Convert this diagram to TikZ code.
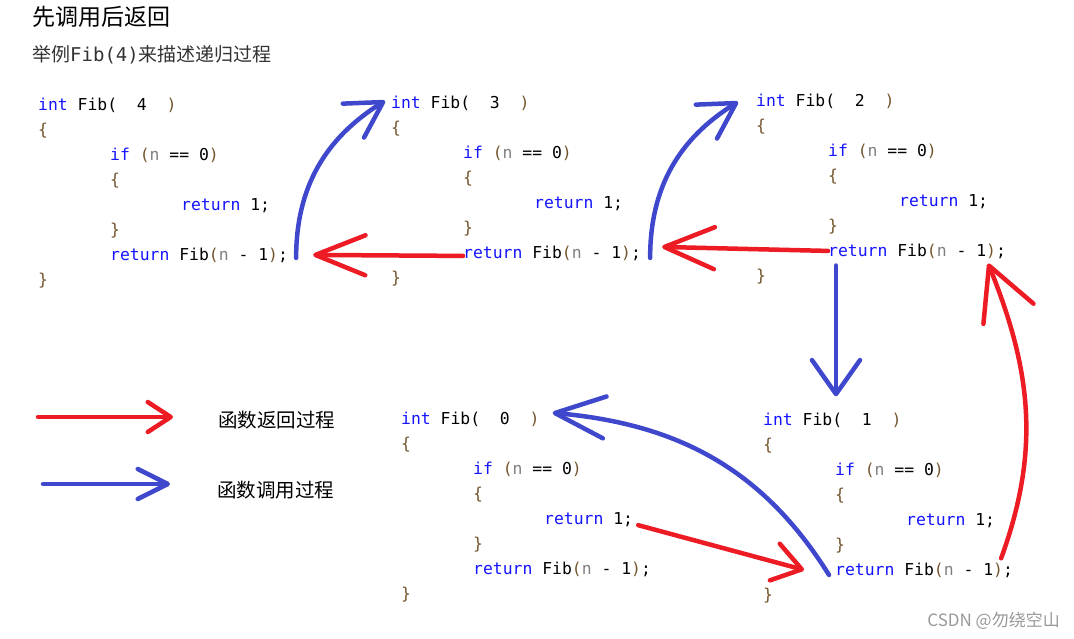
\documentclass[tikz,border=0pt]{standalone}
\usepackage{fontspec}
\setmonofont{DejaVu Sans Mono}
\newfontfamily\cjk{Noto Sans CJK SC}
\usetikzlibrary{arrows.meta}
\definecolor{PaintRed}{RGB}{237,28,36}
\definecolor{PaintBlue}{RGB}{63,72,204}
\definecolor{Kw}{RGB}{20,20,255}
\definecolor{Var}{RGB}{128,128,128}
\definecolor{Bkt}{RGB}{115,85,45}
\newcommand{\kwd}[1]{\textcolor{Kw}{#1}}
\newcommand{\vn}[1]{\textcolor{Var}{#1}}
\newcommand{\bkt}[1]{\textcolor{Bkt}{#1}}

\begin{document}
\begin{tikzpicture}[x=1pt,y=-1pt,
 code/.style={anchor=base west,inner sep=0pt,font=\ttfamily\fontsize{16.4}{20}\selectfont},
 lbl/.style={anchor=west,inner sep=0pt,font=\cjk\fontsize{19.5}{24}\selectfont},
 ret/.style={draw=PaintRed,line width=4.5pt,line cap=round},
 call/.style={draw=PaintBlue,line width=4.5pt,line cap=round},
 barb/.style 2 args={-{Straight Barb[round,length=#1,width=#2]}}]
\fill[white] (0,0) rectangle (1074,638);
\useasboundingbox (0,0) rectangle (1074,638);
\node[anchor=west,inner sep=0pt,font=\cjk\fontsize{23}{28}\selectfont] (title) at (32,17) {先调用后返回};
\node[anchor=west,inner sep=0pt,font=\cjk\fontsize{19}{24}\selectfont,text=black!80] (sub) at (32,55) {举例{\ttfamily Fib(4)}来描述递归过程};
% the five frames of Fib
\foreach \n/\x/\y in {4/38/110,3/391/108,2/756/106,0/401/424,1/763/425}{
 \node[code] (h\n) at (\x,\y) {\kwd{int} Fib(~~\n~~\bkt{)}};
 \node[code] (a\n) at (\x,\y+25) {\bkt{\{}};
 \node[code] (i\n) at (\x+72,\y+50) {\kwd{if} \bkt{(}\vn{n} == 0\bkt{)}};
 \node[code] (b\n) at (\x+72,\y+75) {\bkt{\{}};
 \node[code] (o\n) at (\x+143,\y+100) {\kwd{return} 1;};
 \node[code] (c\n) at (\x+72,\y+125) {\bkt{\}}};
 \node[code] (r\n) at (\x+72,\y+150) {\kwd{return} Fib\bkt{(}\vn{n} - 1\bkt{)};};
 \node[code] (e\n) at (\x,\y+175) {\bkt{\}}};
}
% calls
\draw[call,barb={35pt}{40pt}] ([xshift=8pt,yshift=-3pt]r4.east) to[out=90,in=212] ([xshift=-6pt,yshift=2pt]h3.west);
\draw[call,barb={35pt}{40pt}] ([xshift=9pt,yshift=-5pt]r3.east) to[out=90,in=212] ([xshift=-18pt,yshift=-1pt]h2.west);
\draw[call,barb={34pt}{48pt}] ([xshift=8pt,yshift=-7pt]r2.south west) -- ([xshift=73pt,yshift=16pt]h1.north west);
\draw[call,barb={50pt}{42pt}] ([xshift=-6pt,yshift=-5pt]r1.west) to[out=122,in=-5] ([xshift=13pt,yshift=6pt]h0.east);
% returns
\draw[ret,barb={28pt}{38pt}] ([xshift=5pt,yshift=-6pt]o0.east) -- ([xshift=-31pt]r1.west);
\draw[ret,barb={52pt}{54pt}] ([xshift=-12pt,yshift=4pt]r1.north east) to[out=70,in=-68] ([xshift=-18pt,yshift=-5pt]r2.south east);
\draw[ret,barb={50pt}{42pt}] (r2.west) -- ([xshift=21pt,yshift=6pt]r3.east);
\draw[ret,barb={50pt}{40pt}] ([yshift=-3pt]r3.west) -- ([xshift=25pt]r4.east);
% legend
\node[lbl] (lret) at (218,420) {函数返回过程};
\node[lbl] (lcall) at (217,490) {函数调用过程};
\coordinate (rs) at (38,417);
\coordinate (cs) at (43,484);
\draw[ret,barb={23pt}{30pt}] (rs) -- ([xshift=-45pt,yshift=3pt]lret.west);
\draw[call,barb={30pt}{30pt}] (cs) -- ([xshift=-47pt,yshift=6pt]lcall.west);
\node[anchor=east,inner sep=0pt,font=\cjk\fontsize{17}{20}\selectfont,text=black!40] (wm) at (1060,621) {CSDN @勿绕空山};
\end{tikzpicture}
\end{document}
